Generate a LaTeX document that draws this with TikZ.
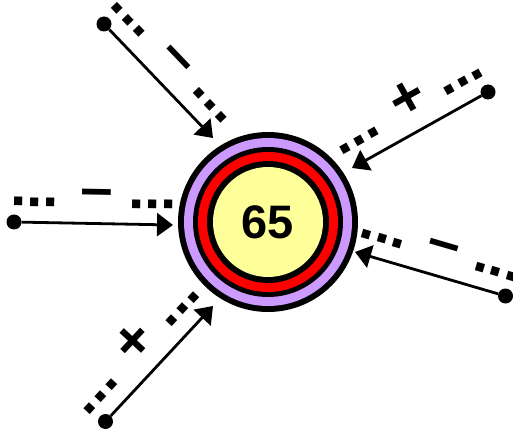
\documentclass[tikz,border=0pt]{standalone}
\usepackage{fontspec}
\setmainfont{Liberation Sans}
\usetikzlibrary{arrows.meta}
\definecolor{ringpurple}{HTML}{CC99FF}
\definecolor{coreyellow}{HTML}{FFFF99}
\tikzset{
  conn/.style={line width=2.8pt, -{Triangle[length=16pt,width=23pt]}},
  enddot/.style={circle, fill=black, inner sep=0pt, minimum size=15pt},
  edgelab/.style={sloped, anchor=south, inner sep=0pt, outer ysep=16pt, outer xsep=0pt,
    font=\fontsize{58}{58}\selectfont\bfseries},
  numlab/.style={inner sep=0pt, font=\fontsize{47}{47}\selectfont\bfseries},
}
\begin{document}
\begin{tikzpicture}[x=1pt,y=-1pt]
\useasboundingbox (0,0) rectangle (513,435);
% end points
\node[enddot] (d1) at (104,24) {};
\node[enddot] (d2) at (488,92) {};
\node[enddot] (d3) at (14,222) {};
\node[enddot] (d4) at (505.5,296) {};
\node[enddot] (d5) at (105.5,421.5) {};
\coordinate (t1) at (213,138);
\coordinate (t2) at (352,168);
\coordinate (t3) at (173,225);
\coordinate (t4) at (355,252);
\coordinate (t5) at (213,306);
% labels
\path (d1.center) -- (t1) node[edgelab, pos=0.463] (l1) {... – ...};
\path (d2.center) -- (t2) node[edgelab, pos=0.49] (l2) {... + ...};
\path (d3.center) -- (t3) node[edgelab, pos=0.5] (l3) {... – ...};
\path (d4.center) -- (t4) node[edgelab, pos=0.48] (l4) {... – ...};
\path (d5.center) -- (t5) node[edgelab, pos=0.474] (l5) {... + ...};
% connectors
\draw[conn] (d1) -- (t1);
\draw[conn] (d2) -- (t2);
\draw[conn] (d3) -- (t3);
\draw[conn] (d4) -- (t4);
\draw[conn] (d5) -- (t5);
% central node
\coordinate (ctr) at (268,222);
\fill[black] (ctr) circle[radius=90];
\fill[ringpurple] (ctr) circle[radius=84];
\fill[black] (ctr) circle[radius=75];
\fill[red] (ctr) circle[radius=70];
\fill[black] (ctr) circle[radius=61];
\fill[coreyellow] (ctr) circle[radius=55];
\node[numlab] (n65) at (ctr) {65};
\end{tikzpicture}
\end{document}
